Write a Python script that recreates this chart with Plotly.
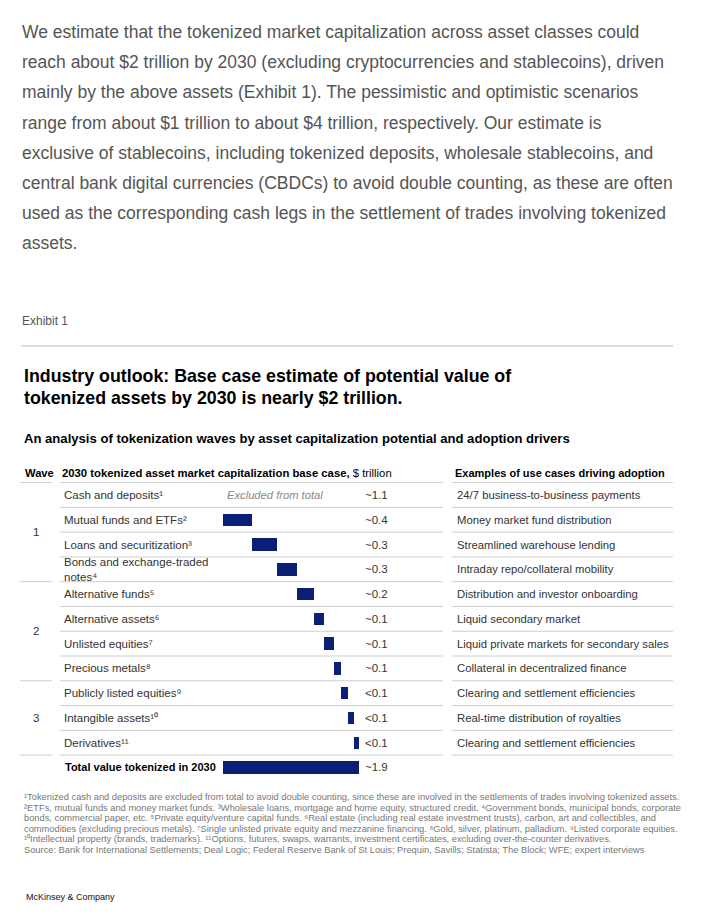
import plotly.graph_objects as go

# ---------------- data ----------------
asset_classes = ["Cash and deposits", "Mutual funds and ETFs", "Loans and securitization",
                 "Bonds and exchange-traded<br>notes", "Alternative funds", "Alternative assets",
                 "Unlisted equities", "Precious metals", "Publicly listed equities",
                 "Intangible assets", "Derivatives"]
footnote_marks = ["¹", "²", "³", "⁴", "⁵", "⁶", "⁷", "⁸", "⁹", "¹⁰", "¹¹"]
waves = [1, 1, 1, 1, 2, 2, 2, 2, 3, 3, 3]
values = [None, 0.40, 0.35, 0.28, 0.23, 0.15, 0.13, 0.10, 0.10, 0.09, 0.07]
value_labels = ["~1.1", "~0.4", "~0.3", "~0.3", "~0.2", "~0.1", "~0.1", "~0.1", "<0.1", "<0.1", "<0.1"]
use_cases = ["24/7 business-to-business payments", "Money market fund distribution",
             "Streamlined warehouse lending", "Intraday repo/collateral mobility",
             "Distribution and investor onboarding", "Liquid secondary market",
             "Liquid private markets for secondary sales", "Collateral in decentralized finance",
             "Clearing and settlement efficiencies", "Real-time distribution of royalties",
             "Clearing and settlement efficiencies"]
total_label_text = "Total value tokenized in 2030"
total_value_label = "~1.9"

paragraph = [
    "We estimate that the tokenized market capitalization across asset classes could",
    "reach about $2 trillion by 2030 (excluding cryptocurrencies and stablecoins), driven",
    "mainly by the above assets (Exhibit 1). The pessimistic and optimistic scenarios",
    "range from about $1 trillion to about $4 trillion, respectively. Our estimate is",
    "exclusive of stablecoins, including tokenized deposits, wholesale stablecoins, and",
    "central bank digital currencies (CBDCs) to avoid double counting, as these are often",
    "used as the corresponding cash legs in the settlement of trades involving tokenized",
    "assets.",
]
footnotes = [
    "¹Tokenized cash and deposits are excluded from total to avoid double counting, since these are involved in the settlements of trades involving tokenized assets.",
    "²ETFs, mutual funds and money market funds. ³Wholesale loans, mortgage and home equity, structured credit. ⁴Government bonds, municipal bonds, corporate",
    "bonds, commercial paper, etc. ⁵Private equity/venture capital funds. ⁶Real estate (including real estate investment trusts), carbon, art and collectibles, and",
    "commodities (excluding precious metals). ⁷Single unlisted private equity and mezzanine financing. ⁸Gold, silver, platinum, palladium. ⁹Listed corporate equities.",
    "¹⁰Intellectual property (brands, trademarks). ¹¹Options, futures, swaps, warrants, investment certificates, excluding over-the-counter derivatives.",
    "Source: Bank for International Settlements; Deal Logic; Federal Reserve Bank of St Louis; Prequin, Savills; Statista; The Block; WFE; expert interviews",
]

# ---------------- geometry ----------------
W, H = 720, 914
ROW0, PITCH = 495.0, 24.77      # pixel centre of first row, row pitch
X0, XSCALE = 223.3, 71.6        # pixel of value 0, pixels per $ trillion

def px(x):
    return x / W

def py(y):
    return 1 - y / H

def row_of(ypix):
    return (ypix - ROW0) / PITCH

NAVY = "#0B1F78"
LINE = "#cfcfcf"
FONT = "Liberation Sans"
ROWFS = 11.5

n = len(asset_classes)
total_row = n

# cumulative bases (waterfall)
bases, xs, ys = [], [], []
run = 0.0
for i, v in enumerate(values):
    if v is None:
        continue
    bases.append(run)
    xs.append(v)
    ys.append(i)
    run += v
total = run

fig = go.Figure()
fig.add_trace(go.Bar(y=ys, x=xs, base=bases, orientation="h", width=0.5,
                     marker=dict(color=NAVY, line=dict(width=0)), showlegend=False,
                     hoverinfo="skip"))
fig.add_trace(go.Bar(y=[total_row], x=[total], base=[0], orientation="h", width=0.52,
                     marker=dict(color=NAVY, line=dict(width=0)), showlegend=False,
                     hoverinfo="skip"))

ann = []
shapes = []

def text(x, y, t, size, color="#333", xanchor="left", yref="paper", bold=False, family=FONT):
    if bold:
        t = "<b>" + t + "</b>"
    ann.append(dict(x=x, y=y, xref="paper", yref=yref, text=t, showarrow=False,
                    xanchor=xanchor, yanchor="middle", align="left",
                    font=dict(size=size, color=color, family=family)))

# paragraph
for k, line in enumerate(paragraph):
    text(px(20), py(32 + 30.2 * k), line, 17.5, color="#555")

text(px(20), py(321), "Exhibit 1", 12, color="#555")
shapes.append(dict(type="line", xref="paper", yref="paper", x0=px(21), x1=px(673),
                   y0=py(346), y1=py(346), line=dict(color="#dcdcdc", width=2)))

text(px(22), py(376), "Industry outlook: Base case estimate of potential value of", 17.8, color="#000", bold=True)
text(px(22), py(398), "tokenized assets by 2030 is nearly $2 trillion.", 17.8, color="#000", bold=True)
text(px(22), py(438), "An analysis of tokenization waves by asset capitalization potential and adoption drivers", 13.1, color="#000", bold=True)

# header
hy = row_of(473)
text(px(23), hy, "<b>Wave</b>", 11.2, color="#000", yref="y")
text(px(60), hy, "<b>2030 tokenized asset market capitalization base case,</b> $ trillion", 11.3, color="#000", yref="y")
text(px(453), hy, "<b>Examples of use cases driving adoption</b>", 11, color="#000", yref="y")

# rows
for i in range(n):
    lab = asset_classes[i] + footnote_marks[i]
    text(px(62), i, lab, ROWFS, color="#333", yref="y")
    text(px(363), i, value_labels[i], ROWFS, color="#333", yref="y")
    text(px(455), i, use_cases[i], 11.3, color="#333", yref="y")
text(px(225), 0, "<i>Excluded from total</i>", 11.2, color="#888", yref="y")
text(px(63), total_row, "<b>" + total_label_text + "</b>", 11, color="#000", yref="y")
text(px(363), total_row, total_value_label, ROWFS, color="#333", yref="y")

# wave labels
for w in sorted(set(waves)):
    idx = [i for i in range(n) if waves[i] == w]
    text(px(36), sum(idx) / len(idx), str(w), ROWFS, color="#333", xanchor="center", yref="y")

# row separators
for i in range(-1, n):
    yb = i + 0.5
    shapes.append(dict(type="line", xref="paper", yref="y", x0=px(60), x1=px(443), y0=yb, y1=yb,
                       line=dict(color=LINE, width=1)))
    shapes.append(dict(type="line", xref="paper", yref="y", x0=px(452), x1=px(673), y0=yb, y1=yb,
                       line=dict(color=LINE, width=1)))
wave_bounds = [-1] + [i for i in range(n) if i == n - 1 or waves[i] != waves[i + 1]]
for i in wave_bounds:
    yb = i + 0.5
    shapes.append(dict(type="line", xref="paper", yref="y", x0=px(20), x1=px(52), y0=yb, y1=yb,
                       line=dict(color=LINE, width=1)))

# footnotes
for k, line in enumerate(footnotes):
    text(px(22), py(797 + 10.6 * k), line, 9.3, color="#777")
text(px(24), py(897), "McKinsey & Company", 9, color="#111")

fig.update_layout(
    width=W, height=H, margin=dict(l=0, r=0, t=0, b=0),
    paper_bgcolor="white", plot_bgcolor="white",
    xaxis=dict(range=[-X0 / XSCALE, (W - X0) / XSCALE], visible=False, fixedrange=True),
    yaxis=dict(range=[row_of(H), row_of(0)], visible=False, fixedrange=True),
    annotations=ann, shapes=shapes, bargap=0,
)

fig.write_html("out.html", config={"displayModeBar": False},
               post_script="document.body.style.margin='0';")
